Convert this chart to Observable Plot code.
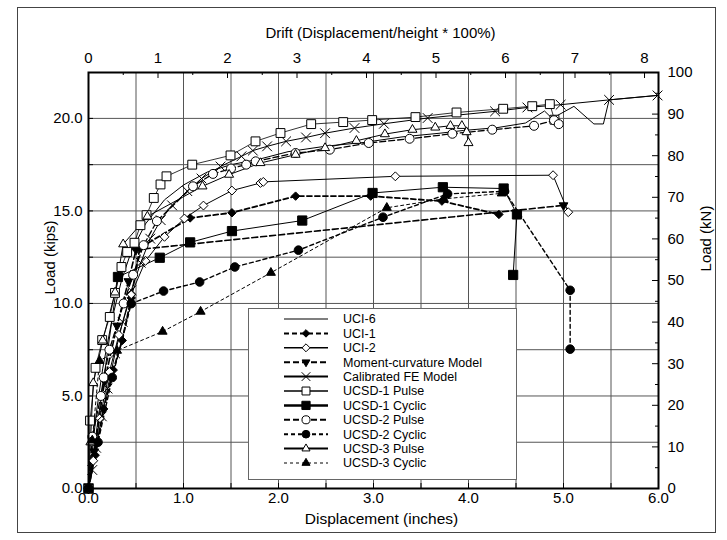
<!DOCTYPE html>
<html><head><meta charset="utf-8">
<script src="https://cdn.jsdelivr.net/npm/d3@7"></script>
<script src="https://cdn.jsdelivr.net/npm/@observablehq/plot@0.6"></script>
<style>
body{margin:0;background:#fff;}
#wrap{position:relative;width:727px;height:540px;overflow:hidden;}
#wrap svg{display:block;}
#outer{position:absolute;left:17px;top:7px;width:699px;height:526px;border:1px solid #444;box-sizing:border-box;pointer-events:none;}
#legend{position:absolute;left:248px;top:308px;width:269px;height:172px;border:1px solid #666;background:#fff;box-sizing:border-box;}
</style></head>
<body><div id="wrap"><div id="outer"></div><div id="legend"></div></div>
<script>
// ---- data (displacement in inches, load in kips) ----
const seriesNames = ["UCI-6","UCI-1","UCI-2","Moment-curvature Model","Calibrated FE Model","UCSD-1 Pulse","UCSD-1 Cyclic","UCSD-2 Pulse","UCSD-2 Cyclic","UCSD-3 Pulse","UCSD-3 Cyclic"];
const uci6 = [[0,0],[0.03,1.5],[0.08,4],[0.15,6.5],[0.25,9.2],[0.35,11.3],[0.45,12.8],[0.6,14.3],[0.8,15.6],[1.0,16.4],[1.25,17.1],[1.5,17.5],[1.8,17.8],[2.1,18.2],[2.5,18.5],[2.9,18.7],[3.3,19.0],[3.7,19.2],[3.95,19.35],[4.3,19.5],[4.6,19.75],[4.8,20.4],[4.88,20.0],[5.11,20.65],[5.32,19.7],[5.42,19.7],[5.48,21.0],[6.0,21.25]];
const uci1 = [[0,0],[0.07,1.8],[0.16,4.3],[0.26,6.4],[0.355,8.0],[0.45,10.3],[0.54,13.0],[1.07,14.62],[1.51,14.9],[2.18,15.8],[2.97,15.8],[3.72,15.53],[4.32,14.81]];
const uci2 = [[0,0],[0.05,1.5],[0.12,3.8],[0.22,6.3],[0.32,8.3],[0.45,10.5],[0.6,12.3],[0.8,13.6],[1.01,14.59],[1.21,15.29],[1.51,16.1],[1.81,16.51],[1.84,16.57],[3.23,16.87],[4.89,16.93],[5.05,14.93]];
const momentCurv = [[0,0],[0.06,2.0],[0.17,5.8],[0.3,8.8],[0.42,11.2],[0.5,12.9],[5.0,15.3]];
const feModel = [[0,0],[0.04,1.0],[0.08,2.2],[0.14,3.9],[0.2,5.4],[0.28,7.3],[0.36,9.0],[0.45,10.7],[0.55,12.2],[0.65,13.5],[0.76,14.5],[0.88,15.3],[1.04,16.07],[1.19,16.75],[1.39,17.4],[1.61,17.95],[1.73,18.26],[1.88,18.49],[2.08,18.76],[2.29,18.97],[2.49,19.2],[2.8,19.48],[3.11,19.71],[3.57,20.02],[4.28,20.38],[4.62,20.59],[4.97,20.74],[5.48,21.0],[5.99,21.24]];
const ucsd1Pulse = [[0,0],[0.016,3.67],[0.074,6.52],[0.144,8.02],[0.224,9.27],[0.279,10.57],[0.347,11.97],[0.407,12.78],[0.484,13.28],[0.547,14.23],[0.611,14.77],[0.687,15.7],[0.758,16.43],[0.821,16.87],[1.092,17.5],[1.495,18.0],[1.758,18.76],[2.021,19.21],[2.344,19.69],[2.681,19.8],[2.986,19.91],[3.442,20.07],[3.874,20.32],[4.365,20.52],[4.671,20.66],[4.856,20.77],[4.905,19.93]];
const ucsd1Cyclic = [[0,0],[0.31,11.43],[0.75,12.47],[1.07,13.3],[1.51,13.91],[2.25,14.48],[2.99,15.97],[3.73,16.28],[4.37,16.21],[4.51,14.81],[4.47,11.54]];
const ucsd2Pulse = [[0,0],[0.04,2.8],[0.13,5.0],[0.16,6.0],[0.22,7.5],[0.37,10.0],[0.47,11.55],[0.58,13.15],[0.72,14.45],[1.1,16.33],[1.31,17.0],[1.5,17.29],[1.66,17.5],[1.76,17.68],[2.18,18.13],[2.54,18.31],[2.95,18.67],[3.38,18.9],[3.83,19.17],[4.25,19.39],[4.69,19.6],[4.9,19.9],[4.95,19.69]];
const ucsd2Cyclic = [[0,0],[0.1,2.5],[0.25,6.0],[0.45,9.99],[0.79,10.67],[1.17,11.16],[1.54,11.97],[2.21,12.88],[3.1,14.66],[3.78,15.92],[4.38,16.06],[5.07,10.71],[5.07,7.53]];
const ucsd3Pulse = [[0,0],[0.02,2.5],[0.05,5.7],[0.15,8.0],[0.28,10.6],[0.365,13.2],[0.62,14.7],[1.2,16.33],[1.48,16.96],[1.81,17.59],[2.18,18.04],[2.49,18.4],[2.82,18.79],[3.12,19.15],[3.41,19.39],[3.65,19.51],[3.81,19.6],[3.93,19.6],[3.98,19.26],[4.0,18.67]];
const ucsd3Cyclic = [[0,0],[0.04,2.6],[0.116,6.9],[0.3,7.45],[0.78,8.48],[1.18,9.56],[1.92,11.66],[3.14,15.17],[3.74,15.65],[4.35,15.95]];

// ---- axes ----
const xTickLabels = [0,1,2,3,4,5,6];
const xMinorTicks = d3.range(0, 6.01, 0.5);
const xGrid = d3.range(0.5, 5.9, 0.5);
const yTickLabels = [0,5,10,15,20];
const yGrid = d3.range(2.5, 20.1, 2.5);
const driftTicks = [0,1,2,3,4,5,6,7,8];
const driftMinor = [0.5,1.5,2.5,3.5,4.5,5.5,6.5,7.5];
const kNTicks = [0,10,20,30,40,50,60,70,80,90,100];
const kNMinor = [5,15,25,35,45,55,65,75,85,95];
const inchesPerDrift = 0.7316;
const kipsPerKN = 0.2248;

// ---- styles ----
const styles = [
  {data: uci6, sw: 1, dash: null, symbol: null},
  {data: uci1, sw: 1.8, dash: "5,3", symbol: "diamond2", fill: "black", r: 3.8, lsw: 2},
  {data: uci2, sw: 1, dash: null, symbol: "diamond2", fill: "white", r: 4, lsw: 1.5},
  {data: momentCurv, sw: 1.6, dash: "6,3", symbol: "triangle2", rotate: 180, fill: "black", r: 4.2, lsw: 2},
  {data: feModel, sw: 1, dash: null, symbol: "times", fill: "none", r: 4.5, lsw: 2},
  {data: ucsd1Pulse, sw: 0.8, dash: null, symbol: "square", fill: "white", r: 5, lsw: 1.5},
  {data: ucsd1Cyclic, sw: 1, dash: null, symbol: "square", fill: "black", r: 5.2, lsw: 2.5},
  {data: ucsd2Pulse, sw: 1.3, dash: "6,3", symbol: "circle", fill: "white", r: 4.5, lsw: 2},
  {data: ucsd2Cyclic, sw: 1.4, dash: "4,3", symbol: "circle", fill: "black", r: 4.3, lsw: 2},
  {data: ucsd3Pulse, sw: 1, dash: null, symbol: "triangle2", fill: "white", r: 4.3, lsw: 2},
  {data: ucsd3Cyclic, sw: 1, dash: "3,3", symbol: "triangle2", fill: "black", r: 4.3, lsw: 1.2}
];

const W = 727, H = 540, mL = 88, mR = 69, mT = 72, mB = 52;
const innerW = W - mL - mR, innerH = H - mT - mB;
const font = "'Liberation Sans', Arial, sans-serif";

const marks = [
  Plot.ruleX(xGrid, {stroke: "#555", strokeWidth: 1}),
  Plot.ruleY(yGrid, {stroke: "#555", strokeWidth: 1}),
  // inward ticks
  Plot.tickX(xMinorTicks, {insetTop: innerH - 5, stroke: "black"}),
  Plot.tickY(yGrid, {insetRight: innerW - 5, stroke: "black"}),
  Plot.tickX(driftTicks.map(d => d * inchesPerDrift), {insetBottom: innerH - 6, stroke: "black"}),
  Plot.tickX(driftMinor.map(d => d * inchesPerDrift), {insetBottom: innerH - 3, stroke: "black"}),
  Plot.tickY(kNTicks.map(d => d * kipsPerKN), {insetLeft: innerW - 6, stroke: "black"}),
  Plot.tickY(kNMinor.map(d => d * kipsPerKN), {insetLeft: innerW - 3, stroke: "black"}),
  Plot.axisX(xTickLabels, {anchor: "bottom", tickSize: 0, tickPadding: 4, tickFormat: d3.format(".1f"), label: null}),
  Plot.axisY(yTickLabels, {anchor: "left", tickSize: 0, tickPadding: 6, tickFormat: d3.format(".1f"), label: null}),
  Plot.axisX(driftTicks.map(d => d * inchesPerDrift), {anchor: "top", tickSize: 0, tickPadding: 10, tickFormat: d => Math.round(d / inchesPerDrift), label: null}),
  Plot.axisY(kNTicks.map(d => d * kipsPerKN), {anchor: "right", tickSize: 0, tickPadding: 9, tickFormat: d => Math.round(d / kipsPerKN), label: null}),
  Plot.text(["Displacement (inches)"], {frameAnchor: "bottom", textAnchor: "middle", dy: 35, dx: 8, fontSize: 15.5}),
  Plot.text(["Drift (Displacement/height * 100%)"], {frameAnchor: "top", textAnchor: "middle", dy: -45, dx: 7}),
  Plot.text(["Load (kips)"], {frameAnchor: "left", textAnchor: "middle", rotate: -90, dx: -38, dy: -23}),
  Plot.text(["Load (kN)"], {frameAnchor: "right", textAnchor: "middle", rotate: -90, dx: 48, dy: -42})
];
for (const s of styles) {
  marks.push(Plot.line(s.data, {x: d => d[0], y: d => d[1], stroke: "black", strokeWidth: s.sw, strokeDasharray: s.dash}));
}
for (const s of styles) {
  if (!s.symbol) continue;
  const o = {x: d => d[0], y: d => d[1], symbol: s.symbol, r: s.r, stroke: "black", strokeWidth: 1, fill: s.fill};
  if (s.rotate) o.rotate = s.rotate;
  marks.push(Plot.dot(s.data, o));
}
marks.push(Plot.frame({stroke: "black", strokeWidth: 2}));

const chart = Plot.plot({
  width: W, height: H,
  marginLeft: mL, marginRight: mR, marginTop: mT, marginBottom: mB,
  x: {domain: [0, 6]},
  y: {domain: [0, 100 * kipsPerKN]},
  style: {fontFamily: font, fontSize: "15px", background: "transparent", color: "black"},
  marks
});
document.getElementById("wrap").prepend(chart);

// ---- legend ----
const lg = d3.select("#legend").append("svg").attr("width", 267).attr("height", 170).style("position","absolute").style("left","0").style("top","0");
const symMap = {diamond2: d3.symbolDiamond2, triangle2: d3.symbolTriangle2, times: d3.symbolTimes, square: d3.symbolSquare, circle: d3.symbolCircle};
seriesNames.forEach((name, i) => {
  const s = styles[i];
  const y = 10 + i * 14.4;
  const g = lg.append("g");
  g.append("line").attr("x1", 35).attr("x2", 79).attr("y1", y).attr("y2", y)
    .attr("stroke", "black").attr("stroke-width", s.lsw || 1.2).attr("stroke-dasharray", s.dash);
  if (s.symbol) {
    const sz = Math.PI * s.r * s.r * 0.8;
    g.append("path").attr("d", d3.symbol(symMap[s.symbol], sz)())
      .attr("transform", `translate(57,${y})` + (s.rotate ? ` rotate(${s.rotate})` : ""))
      .attr("fill", s.fill).attr("stroke", "black").attr("stroke-width", 1);
  }
  g.append("text").attr("x", 94).attr("y", y).attr("dy", "0.35em")
    .style("font-family", font).style("font-size", "12.5px").text(name);
});
</script>
</body></html>
